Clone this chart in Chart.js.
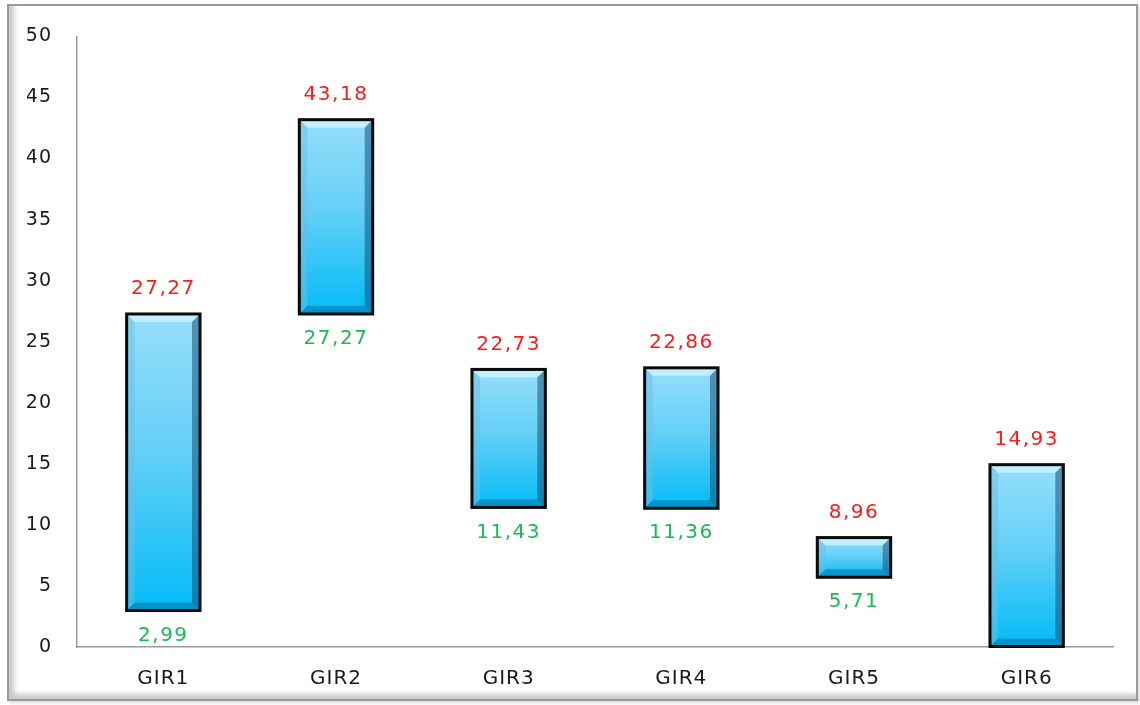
<!DOCTYPE html>
<html>
<head>
<meta charset="utf-8">
<script src="https://cdn.jsdelivr.net/npm/chart.js@4/dist/chart.umd.min.js"></script>
<style>
  html, body { margin: 0; padding: 0; background: #ffffff; }
  #wrap { position: relative; width: 1140px; height: 705px; overflow: hidden; }
  #frame {
    position: absolute; left: 7px; top: 4px; width: 1127px; height: 693px;
    border: 2px solid #9a9a9a; background: #ffffff;
    box-shadow: inset 5px -5px 5px rgba(0,0,0,0.22), 2px 2px 3px rgba(0,0,0,0.15);
  }
  #c { position: absolute; left: 0; top: 0; }
</style>
</head>
<body>
<div id="wrap">
  <div id="frame"></div>
  <canvas id="c" width="1140" height="705"></canvas>
</div>
<script>
const categories = ['GIR1', 'GIR2', 'GIR3', 'GIR4', 'GIR5', 'GIR6'];
const lowValues  = [2.99, 27.27, 11.43, 11.36, 5.71, 0];
const highValues = [27.27, 43.18, 22.73, 22.86, 8.96, 14.93];
const yTicks = [0, 5, 10, 15, 20, 25, 30, 35, 40, 45, 50];

const fmt = v => v.toFixed(2).replace('.', ',');
const FONT = '"DejaVu Sans", Verdana, sans-serif';

const spacingPlugin = {
  id: 'spacing',
  beforeDraw(chart) { try { chart.ctx.letterSpacing = '1px'; } catch (e) {} }
};

const bevelPlugin = {
  id: 'bevel',
  afterDatasetsDraw(chart) {
    const ctx = chart.ctx;
    const meta = chart.getDatasetMeta(0);
    meta.data.forEach((bar, i) => {
      const w = bar.width;
      const l = bar.x - w / 2, r = bar.x + w / 2;
      const t = Math.min(bar.y, bar.base), b = Math.max(bar.y, bar.base);
      const h = b - t;
      const bv = Math.min(8, h / 2);
      ctx.save();
      const g = ctx.createLinearGradient(0, t, 0, b);
      g.addColorStop(0, '#95def9');
      g.addColorStop(0.45, '#66d0f7');
      g.addColorStop(1, '#03bbf6');
      ctx.fillStyle = g;
      ctx.fillRect(l, t, w, h);
      // top bevel
      ctx.fillStyle = 'rgba(205,244,255,0.8)';
      ctx.beginPath(); ctx.moveTo(l, t); ctx.lineTo(r, t); ctx.lineTo(r - bv, t + bv); ctx.lineTo(l + bv, t + bv); ctx.closePath(); ctx.fill();
      // left bevel
      ctx.fillStyle = 'rgba(110,190,225,0.5)';
      ctx.beginPath(); ctx.moveTo(l, t); ctx.lineTo(l + bv, t + bv); ctx.lineTo(l + bv, b - bv); ctx.lineTo(l, b); ctx.closePath(); ctx.fill();
      // right bevel
      ctx.fillStyle = 'rgba(15,70,110,0.5)';
      ctx.beginPath(); ctx.moveTo(r, t); ctx.lineTo(r - bv, t + bv); ctx.lineTo(r - bv, b - bv); ctx.lineTo(r, b); ctx.closePath(); ctx.fill();
      // bottom bevel
      ctx.fillStyle = 'rgba(0,100,150,0.45)';
      ctx.beginPath(); ctx.moveTo(l, b); ctx.lineTo(r, b); ctx.lineTo(r - bv, b - bv); ctx.lineTo(l + bv, b - bv); ctx.closePath(); ctx.fill();
      // border
      ctx.strokeStyle = '#0a0a0a';
      ctx.lineWidth = 3;
      ctx.strokeRect(l, t, w, h);
      ctx.restore();

      // labels
      ctx.save();
      ctx.font = '20px ' + FONT;
      ctx.textAlign = 'center';
      ctx.textBaseline = 'middle';
      try { ctx.letterSpacing = '1.5px'; } catch (e) {}
      ctx.fillStyle = '#ff1a1a';
      ctx.fillText(fmt(highValues[i]), bar.x, t - 25);
      if (lowValues[i] > 0) {
        ctx.fillStyle = '#1db954';
        ctx.fillText(fmt(lowValues[i]), bar.x, b + 25);
      }
      ctx.restore();
    });
  }
};

new Chart(document.getElementById('c'), {
  type: 'bar',
  data: {
    labels: categories,
    datasets: [{
      data: categories.map((c, i) => [lowValues[i], highValues[i]]),
      backgroundColor: '#5ccdf6',
      borderWidth: 0,
      barPercentage: 0.85,
      categoryPercentage: 0.5
    }]
  },
  options: {
    responsive: false,
    animation: false,
    events: [],
    layout: { padding: { left: 27, right: 27, top: 34, bottom: 0 } },
    plugins: { legend: { display: false }, tooltip: { enabled: false } },
    scales: {
      x: {
        grid: { display: true, drawOnChartArea: false, drawTicks: false },
        border: { display: true, color: '#9a9a9a', width: 1.5 },
        ticks: { color: '#1a1a1a', font: { family: FONT, size: 20 }, padding: 20 },
        afterFit(scale) { scale.height = 58; }
      },
      y: {
        min: 0, max: 50,
        afterBuildTicks(scale) { scale.ticks = yTicks.map(v => ({ value: v })); },
        grid: { display: true, drawOnChartArea: false, drawTicks: false },
        border: { display: true, color: '#9a9a9a', width: 1.5 },
        ticks: { color: '#1a1a1a', font: { family: FONT, size: 19 }, padding: 25 },
        afterFit(scale) { scale.width = 50; }
      }
    }
  },
  plugins: [spacingPlugin, bevelPlugin]
});
</script>
</body>
</html>
